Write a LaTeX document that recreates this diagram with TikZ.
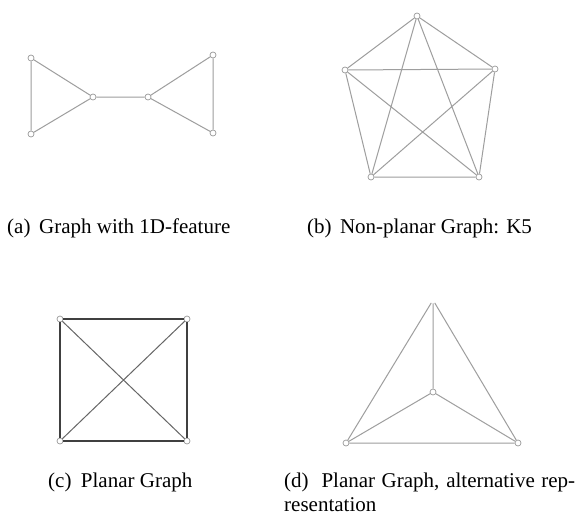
\documentclass[tikz,border=0pt]{standalone}
\usepackage{fontspec}
\setmainfont{Liberation Serif}
\tikzset{
  vtx/.style={circle,draw=gray!80,fill=white,line width=0.7pt,inner sep=0pt,minimum size=6pt},
  ledge/.style={draw=black!38,line width=1pt},
  dedge/.style={draw=black!75,line width=1.1pt},
  medge/.style={draw=black!60,line width=1pt},
  captxt/.style={anchor=base west,inner sep=0pt,font=\fontsize{21}{24}\selectfont}
}
\begin{document}
\begin{tikzpicture}[x=1pt,y=-1pt]
\useasboundingbox[fill=white] (0,0) rectangle (577,517);
% (a)
\node[vtx] (a1) at (31,58) {};
\node[vtx] (a2) at (31,134) {};
\node[vtx] (a3) at (93,97) {};
\node[vtx] (a4) at (148,97) {};
\node[vtx] (a5) at (213,55) {};
\node[vtx] (a6) at (213,133) {};
\path[ledge] (a1) -- (a2) (a1) -- (a3) (a2) -- (a3) (a3) -- (a4) (a4) -- (a5) (a4) -- (a6) (a5) -- (a6);
% (b)
\node[vtx] (b1) at (417,16) {};
\node[vtx] (b2) at (345,70) {};
\node[vtx] (b3) at (495,69) {};
\node[vtx] (b4) at (371,177) {};
\node[vtx] (b5) at (479,177) {};
\path[ledge] (b1) -- (b2) (b1) -- (b3) (b1) -- (b4) (b1) -- (b5)
  (b2) -- (b3) (b2) -- (b4) (b2) -- (b5) (b3) -- (b4) (b3) -- (b5) (b4) -- (b5);
% (c)
\node[vtx] (c1) at (60,319) {};
\node[vtx] (c2) at (187,319) {};
\node[vtx] (c3) at (60,441) {};
\node[vtx] (c4) at (187,441) {};
\path[dedge] (c1) -- (c2) (c1) -- (c3) (c2) -- (c4) (c3) -- (c4);
\path[medge] (c1) -- (c4) (c2) -- (c3);
% (d)
\node[vtx,draw=none,fill=none] (d1) at (433,300) {};
\node[vtx] (d2) at (433,392) {};
\node[vtx] (d3) at (346,443) {};
\node[vtx] (d4) at (518,443) {};
\path[ledge] (d1) -- (d2) (d1) -- (d3) (d1) -- (d4) (d2) -- (d3) (d2) -- (d4) (d3) -- (d4);
% captions
\node[captxt] (ta) at (7,233) {(a)\hspace{0.41em}Graph with 1D-feature};
\node[captxt] (tb) at (307,233) {(b)\hspace{0.4em}Non-planar Graph: K5};
\node[captxt] (tc) at (48,487) {(c)\hspace{0.45em}Planar Graph};
\node[captxt] (td) at (284,487) {\makebox[291pt][s]{(d)\hspace{0.3em} Planar Graph, alternative rep-}};
\node[captxt] (td2) at (284,511) {resentation};
\end{tikzpicture}
\end{document}
